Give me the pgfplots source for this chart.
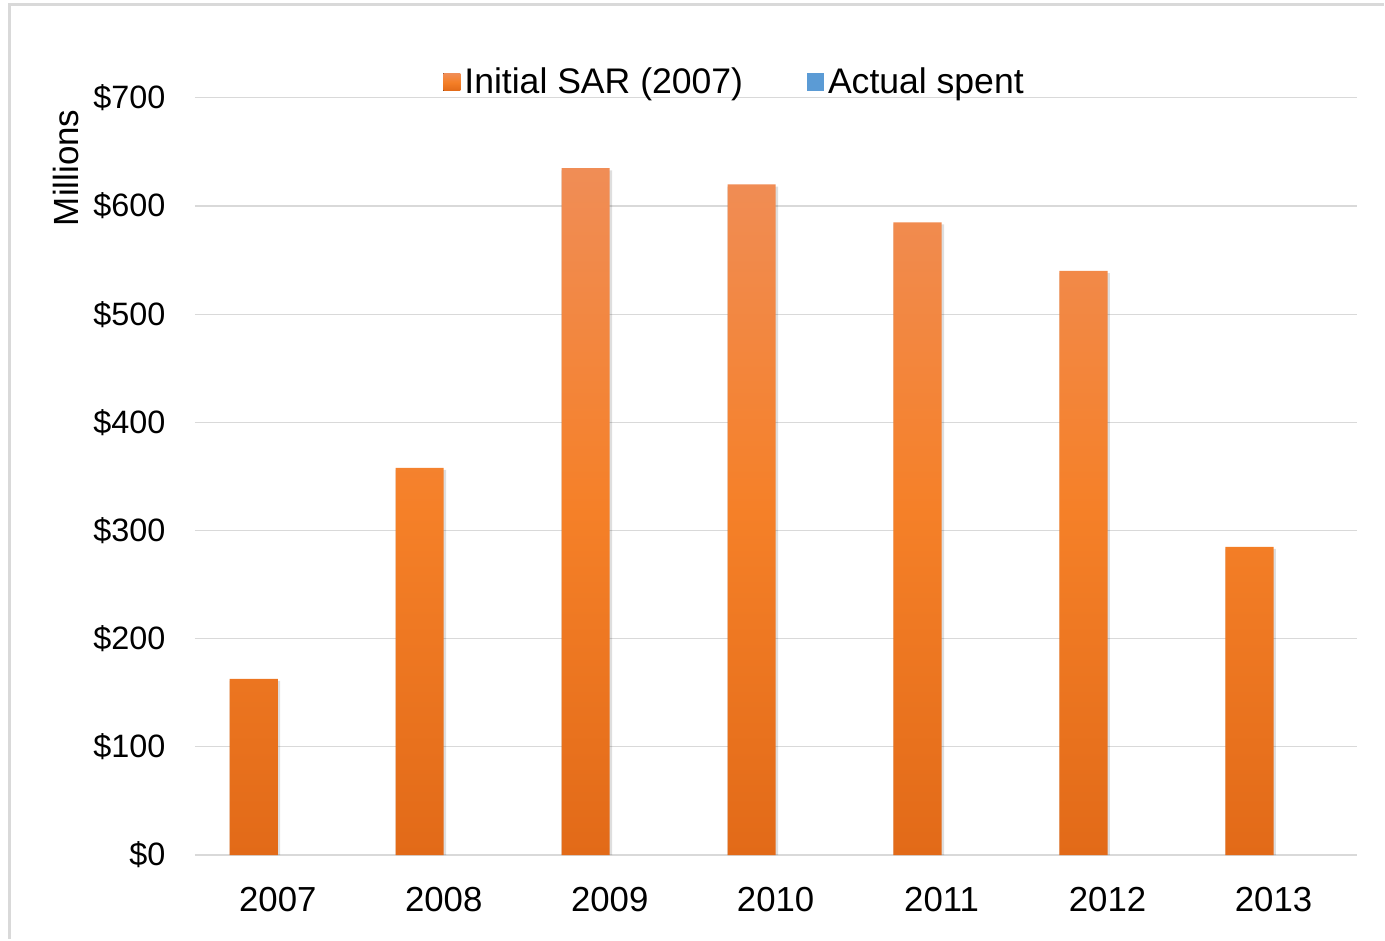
\documentclass[border=0pt]{standalone}
\usepackage{pgfplots}
\pgfplotsset{compat=1.18}
\usepackage{fontspec}
\setmainfont{Liberation Sans}

\definecolor{bartop}{RGB}{240,141,86}
\definecolor{barmid}{RGB}{245,128,40}
\definecolor{barbot}{RGB}{226,106,24}
\definecolor{spentblue}{RGB}{91,155,213}
\definecolor{gridgray}{RGB}{217,217,217}

\begin{document}
\begin{tikzpicture}[x=0.5pt,y=0.5pt]
  % page area and outer frame
  \path (0,0) rectangle (1385,940);
  \draw[gridgray, line width=1.5pt] (10,0) -- (10,935) -- (1385,935);

  \begin{axis}[
    at={(97.5pt,42pt)}, anchor=south west,
    width=581.5pt, height=379pt, scale only axis,
    xmin=-0.5, xmax=6.5, ymin=0, ymax=700,
    xtick={0,...,6},
    xticklabels={2007,2008,2009,2010,2011,2012,2013},
    ytick={0,100,...,700},
    yticklabels={\$0,\$100,\$200,\$300,\$400,\$500,\$600,\$700},
    major tick length=0pt,
    axis line style={draw=none},
    ymajorgrids, grid style={gridgray, line width=0.6pt},
    xticklabel style={inner sep=0pt, yshift=-16pt, anchor=north,
      font=\fontsize{17.4}{20}\selectfont},
    yticklabel style={inner sep=0pt, xshift=-14.5pt, anchor=east,
      font=\fontsize{16.2}{19}\selectfont},
    ylabel={Millions},
    ylabel style={at={(rel axis cs:-0.111,0.9077)}, anchor=center, inner sep=0pt,
      font=\fontsize{17.5}{20}\selectfont},
    legend style={at={(rel axis cs:0.4655,1.021)}, anchor=center, draw=none, fill=none,
      legend columns=2, column sep=0pt, inner sep=0pt,
      /tikz/every even column/.append style={column sep=30pt},
      font=\fontsize{17.8}{20}\selectfont},
    legend image code/.code={\fill[#1, draw=none] (0pt,-4.3pt) rectangle (8.5pt,4.3pt);},
    clip=false,
  ]
    % baseline of the bars
    \draw[gridgray, line width=1.2pt] (rel axis cs:0,0) -- (rel axis cs:1,0);

    % soft shadow behind the bars
    \addplot[ybar, bar width=0.305, bar shift=-0.138, draw=none,
      fill=black, fill opacity=0.13, forget plot]
      coordinates {(0,161) (1,356) (2,633) (3,618) (4,583) (5,538) (6,283)};

    \addplot[ybar, bar width=0.29, bar shift=-0.145, draw=none,
      top color=bartop, bottom color=barbot, middle color=barmid, forget plot]
      coordinates {(0,163) (1,358) (2,635) (3,620) (4,585) (5,540) (6,285)};

    \addlegendimage{draw=none, top color=bartop, bottom color=barbot, middle color=barmid}
    \addlegendentry{Initial SAR (2007)}
    \addlegendimage{draw=none, fill=spentblue}
    \addlegendentry{Actual spent}
  \end{axis}
\end{tikzpicture}
\end{document}
